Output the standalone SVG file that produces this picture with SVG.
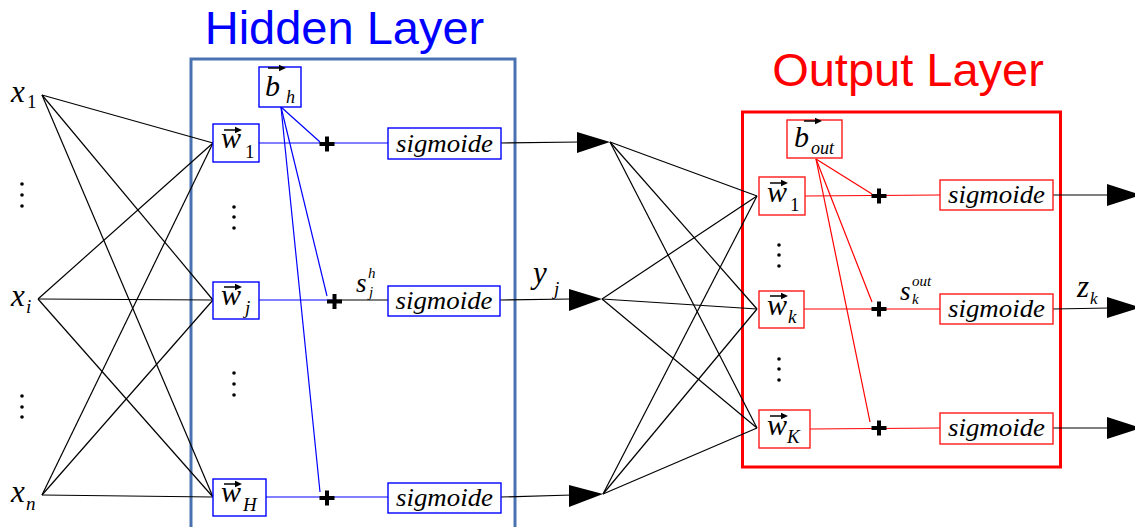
<svg xmlns="http://www.w3.org/2000/svg" xmlns:xlink="http://www.w3.org/1999/xlink" width="1135" height="527" viewBox="0 0 1135 527">
<style>
.m{font-family:"Liberation Serif","DejaVu Serif",serif;font-style:italic;fill:#000}
.up{font-family:"Liberation Serif","DejaVu Serif",serif;font-style:normal;fill:#000}
.title{font-family:"Liberation Sans",Arial,sans-serif;font-size:47px}
.hb{fill:#fff;stroke:#0000ff;stroke-width:1.4}
.ob{fill:#fff;stroke:#ff1a1a;stroke-width:1.4}
.bl{stroke:#0000ff;stroke-width:1.2;fill:none}
.rl{stroke:#ff0000;stroke-width:1.2;fill:none}
.k{stroke:#000;stroke-width:1.2;fill:none}
.plus{stroke:#000;stroke-width:4;fill:none}
.sig{font-family:"Liberation Serif","DejaVu Serif",serif;font-style:italic;font-size:26px;fill:#000}
.dot{fill:#000}
</style>
<defs>
<g id="vec"><line x1="0" y1="0" x2="14" y2="0" stroke="#000" stroke-width="1.5"/><path d="M11,-3.2 L18,0 L11,3.2 Z" fill="#000"/></g>
<path id="pl" d="M-7.5,0 H7.5 M0,-7.5 V7.5"/>
</defs>
<rect width="1135" height="527" fill="#fff"/>

<!-- layer frames and titles -->
<g id="hidden-layer">
<rect x="191" y="59" width="324" height="490" fill="none" stroke="#4a72b0" stroke-width="3"/>
<text class="title" x="344.5" y="44" text-anchor="middle" fill="#0000ff">Hidden Layer</text>
</g>
<g id="output-layer">
<rect x="742.5" y="112" width="318" height="355" fill="none" stroke="#ff0000" stroke-width="3"/>
<text class="title" x="908" y="86" text-anchor="middle" fill="#ff0000">Output Layer</text>
</g>

<g id="connectors">
<!-- inputs to hidden weights -->
<line class="k" x1="42" y1="95" x2="213" y2="143"/>
<line class="k" x1="42" y1="95" x2="213" y2="300"/>
<line class="k" x1="42" y1="95" x2="213" y2="497"/>
<line class="k" x1="38" y1="299" x2="213" y2="143"/>
<line class="k" x1="38" y1="299" x2="213" y2="300"/>
<line class="k" x1="38" y1="299" x2="213" y2="497"/>
<line class="k" x1="42" y1="495" x2="213" y2="143"/>
<line class="k" x1="42" y1="495" x2="213" y2="300"/>
<line class="k" x1="42" y1="495" x2="213" y2="497"/>
<!-- hidden internal -->
<line class="bl" x1="259" y1="143" x2="388" y2="143"/>
<line class="bl" x1="259" y1="300" x2="335" y2="300"/>
<line class="k" x1="335" y1="300" x2="388" y2="300"/>
<line class="bl" x1="266" y1="497" x2="388" y2="497"/>
<line class="bl" x1="281" y1="107" x2="320" y2="142"/>
<line class="bl" x1="281" y1="107" x2="327" y2="296"/>
<line class="bl" x1="281" y1="107" x2="320" y2="492"/>
<!-- hidden outputs -->
<line class="k" x1="501" y1="143" x2="580" y2="142"/>
<line class="k" x1="500" y1="300" x2="572" y2="299"/>
<line class="k" x1="501" y1="497" x2="572" y2="495"/>
<polygon points="577,132 610,142 577,153" fill="#000"/>
<polygon points="569,289 602,299 569,311" fill="#000"/>
<polygon points="569,485 603,494 569,507" fill="#000"/>
<!-- hidden to output weights -->
<line class="k" x1="610" y1="142" x2="757" y2="196"/>
<line class="k" x1="610" y1="142" x2="757" y2="309"/>
<line class="k" x1="610" y1="142" x2="757" y2="428"/>
<line class="k" x1="602" y1="299" x2="757" y2="196"/>
<line class="k" x1="602" y1="299" x2="757" y2="309"/>
<line class="k" x1="602" y1="299" x2="757" y2="428"/>
<line class="k" x1="603" y1="494" x2="757" y2="196"/>
<line class="k" x1="603" y1="494" x2="757" y2="309"/>
<line class="k" x1="603" y1="494" x2="757" y2="428"/>
<!-- output internal -->
<line class="rl" x1="805" y1="196" x2="940" y2="195"/>
<line class="rl" x1="804" y1="309" x2="940" y2="309"/>
<line class="rl" x1="810" y1="429" x2="940" y2="428"/>
<line class="rl" x1="816" y1="159" x2="872" y2="194"/>
<line class="rl" x1="816" y1="159" x2="872" y2="302"/>
<line class="rl" x1="816" y1="159" x2="870" y2="422"/>
<!-- outputs -->
<line class="k" x1="1053" y1="195" x2="1110" y2="195"/>
<line class="k" x1="1053" y1="309" x2="1110" y2="308"/>
<line class="k" x1="1053" y1="428" x2="1110" y2="428"/>
<polygon points="1107,184 1141,195 1107,206" fill="#000"/>
<polygon points="1107,297 1141,307.5 1107,318" fill="#000"/>
<polygon points="1107,417 1141,428 1107,439" fill="#000"/>
</g>

<!-- inputs -->
<g id="x1"><text class="m" x="11" y="102" font-size="31">x</text><text class="up" x="27" y="108" font-size="19">1</text></g>
<g id="xi"><text class="m" x="11" y="306" font-size="31">x</text><text class="m" x="26" y="313" font-size="19">i</text></g>
<g id="xn"><text class="m" x="11" y="502" font-size="31">x</text><text class="m" x="26" y="510" font-size="19">n</text></g>
<g id="input-dots">
<circle class="dot" cx="22" cy="184" r="1.8"/><circle class="dot" cx="22" cy="195" r="1.8"/><circle class="dot" cx="22" cy="206" r="1.8"/>
<circle class="dot" cx="22" cy="396" r="1.8"/><circle class="dot" cx="22" cy="407" r="1.8"/><circle class="dot" cx="22" cy="417" r="1.8"/>
</g>

<!-- hidden nodes -->
<g id="bh"><rect class="hb" x="259" y="67" width="42" height="40"/><text class="m" x="265" y="96" font-size="30">b</text><use xlink:href="#vec" x="268" y="68"/><text class="m" x="286" y="103" font-size="18">h</text></g>
<g id="hw1"><rect class="hb" x="213" y="124" width="46" height="38"/><text class="m" x="221" y="148" font-size="30">w</text><use xlink:href="#vec" x="224" y="130"/><text class="up" x="245" y="158" font-size="19">1</text></g>
<g id="hwj"><rect class="hb" x="213" y="282" width="46" height="37"/><text class="m" x="221" y="305" font-size="30">w</text><use xlink:href="#vec" x="224" y="287"/><text class="m" x="245" y="314" font-size="19">j</text></g>
<g id="hwH"><rect class="hb" x="213" y="479" width="53" height="37"/><text class="m" x="221" y="502" font-size="30">w</text><use xlink:href="#vec" x="224" y="484"/><text class="m" x="243" y="511" font-size="19">H</text></g>
<g id="hidden-dots">
<circle class="dot" cx="234" cy="207" r="1.8"/><circle class="dot" cx="234" cy="217" r="1.8"/><circle class="dot" cx="234" cy="228" r="1.8"/>
<circle class="dot" cx="234" cy="373" r="1.8"/><circle class="dot" cx="234" cy="384" r="1.8"/><circle class="dot" cx="234" cy="395" r="1.8"/>
</g>
<g id="hplus1"><use xlink:href="#pl" class="plus" x="327" y="144"/></g>
<g id="hplusj"><use xlink:href="#pl" class="plus" x="334.5" y="301.5"/></g>
<g id="hplusH"><use xlink:href="#pl" class="plus" x="327" y="498"/></g>
<g id="sjh"><text class="m" x="356" y="292" font-size="27">s</text><text class="m" x="368" y="278" font-size="15">h</text><text class="m" x="369" y="297" font-size="15">j</text></g>
<g id="hsig1"><rect class="hb" x="388" y="128" width="113" height="31"/><text class="sig" x="444.5" y="152" text-anchor="middle" textLength="97" lengthAdjust="spacingAndGlyphs">sigmoide</text></g>
<g id="hsigj"><rect class="hb" x="388" y="286" width="112" height="30"/><text class="sig" x="444" y="309" text-anchor="middle" textLength="97" lengthAdjust="spacingAndGlyphs">sigmoide</text></g>
<g id="hsigH"><rect class="hb" x="388" y="483" width="113" height="30"/><text class="sig" x="444.5" y="506" text-anchor="middle" textLength="97" lengthAdjust="spacingAndGlyphs">sigmoide</text></g>

<g id="yj"><text class="m" x="533" y="283" font-size="31">y</text><text class="m" x="554" y="295" font-size="19">j</text></g>

<!-- output nodes -->
<g id="bout"><rect class="ob" x="787" y="120" width="55" height="38"/><text class="m" x="794" y="147" font-size="30">b</text><use xlink:href="#vec" x="804" y="121"/><text class="m" x="811" y="154" font-size="18">out</text></g>
<g id="ow1"><rect class="ob" x="759" y="177" width="46" height="38"/><text class="m" x="767" y="202" font-size="30">w</text><use xlink:href="#vec" x="770" y="183"/><text class="up" x="790" y="211" font-size="19">1</text></g>
<g id="owk"><rect class="ob" x="759" y="291" width="45" height="37"/><text class="m" x="767" y="315" font-size="30">w</text><use xlink:href="#vec" x="770" y="296"/><text class="m" x="788" y="323" font-size="19">k</text></g>
<g id="owK"><rect class="ob" x="759" y="410" width="51" height="38"/><text class="m" x="767" y="435" font-size="30">w</text><use xlink:href="#vec" x="770" y="416"/><text class="m" x="787" y="443" font-size="19">K</text></g>
<g id="output-dots">
<circle class="dot" cx="779" cy="245" r="1.8"/><circle class="dot" cx="779" cy="255" r="1.8"/><circle class="dot" cx="779" cy="266" r="1.8"/>
<circle class="dot" cx="779" cy="359" r="1.8"/><circle class="dot" cx="779" cy="369" r="1.8"/><circle class="dot" cx="779" cy="380" r="1.8"/>
</g>
<g id="oplus1"><use xlink:href="#pl" class="plus" x="879" y="196"/></g>
<g id="oplusk"><use xlink:href="#pl" class="plus" x="879" y="309"/></g>
<g id="oplusK"><use xlink:href="#pl" class="plus" x="879" y="428"/></g>
<g id="skout"><text class="m" x="900" y="300" font-size="27">s</text><text class="m" x="912" y="286" font-size="15">out</text><text class="m" x="912" y="304" font-size="15">k</text></g>
<g id="osig1"><rect class="ob" x="940" y="180" width="113" height="30"/><text class="sig" x="996.5" y="203" text-anchor="middle" textLength="97" lengthAdjust="spacingAndGlyphs">sigmoide</text></g>
<g id="osigk"><rect class="ob" x="940" y="294" width="113" height="30"/><text class="sig" x="996.5" y="317" text-anchor="middle" textLength="97" lengthAdjust="spacingAndGlyphs">sigmoide</text></g>
<g id="osigK"><rect class="ob" x="940" y="413" width="113" height="31"/><text class="sig" x="996.5" y="436" text-anchor="middle" textLength="97" lengthAdjust="spacingAndGlyphs">sigmoide</text></g>
<g id="zk"><text class="m" x="1077" y="297" font-size="31">z</text><text class="m" x="1090" y="304" font-size="17">k</text></g>
</svg>
